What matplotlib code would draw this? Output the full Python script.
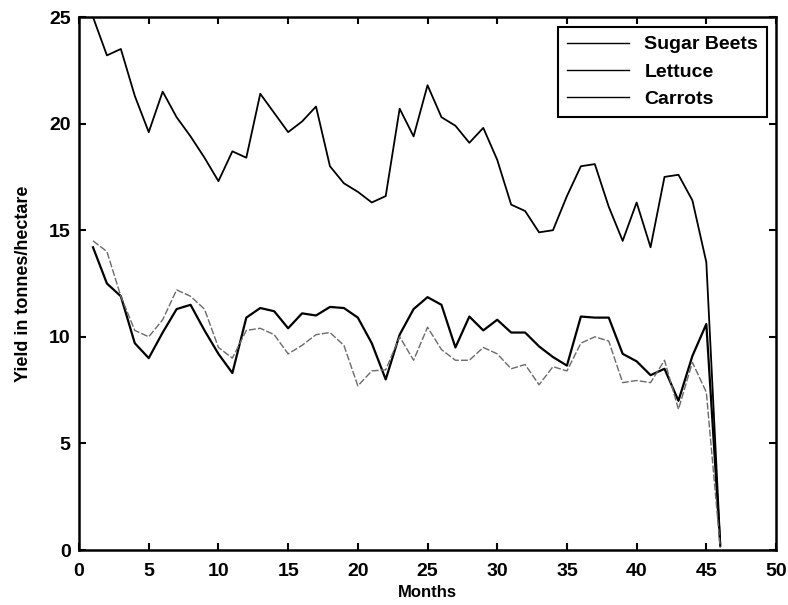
import numpy as np
import matplotlib
matplotlib.use("Agg")
import matplotlib.pyplot as plt

plt.rcParams['font.family'] = ['Liberation Sans', 'DejaVu Sans']
plt.rcParams['font.weight'] = 'bold'

# monthly yields (tonnes/hectare)
months = np.arange(1, 47)

sugar_beets = [25.0, 23.2, 23.5, 21.3, 19.6, 21.5, 20.3, 19.4, 18.4, 17.3,
               18.7, 18.4, 21.4, 20.5, 19.6, 20.1, 20.8, 18.0, 17.2, 16.8,
               16.3, 16.6, 20.7, 19.4, 21.8, 20.3, 19.9, 19.1, 19.8, 18.3,
               16.2, 15.9, 14.9, 15.0, 16.6, 18.0, 18.1, 16.1, 14.5, 16.3,
               14.2, 17.5, 17.6, 16.4, 13.5, 0.3]

lettuce = [14.2, 12.5, 11.9, 9.7, 9.0, 10.2, 11.3, 11.5, 10.3, 9.2,
           8.3, 10.9, 11.35, 11.2, 10.4, 11.1, 11.0, 11.4, 11.35, 10.9,
           9.7, 8.0, 10.1, 11.3, 11.86, 11.5, 9.5, 10.95, 10.3, 10.8,
           10.2, 10.2, 9.55, 9.05, 8.65, 10.95, 10.9, 10.9, 9.2, 8.85,
           8.2, 8.5, 7.0, 9.1, 10.6, 0.2]

carrots = [14.5, 14.0, 11.9, 10.3, 10.0, 10.8, 12.2, 11.9, 11.3, 9.5,
           9.0, 10.3, 10.4, 10.1, 9.2, 9.6, 10.1, 10.2, 9.6, 7.7,
           8.4, 8.45, 10.0, 8.9, 10.45, 9.4, 8.9, 8.9, 9.5, 9.2,
           8.5, 8.7, 7.75, 8.6, 8.4, 9.7, 10.0, 9.8, 7.85, 7.95,
           7.85, 8.9, 6.6, 8.8, 7.4, 0.1]

fig = plt.figure(figsize=(7.88, 6.05), dpi=100)
ax = fig.add_axes([0.1003, 0.0909, 0.8845, 0.881])

ax.plot(months, sugar_beets, color='black', lw=1.3, label='Sugar Beets')
ax.plot(months, lettuce, color='black', lw=1.6, label='Lettuce')
ax.plot(months, carrots, color='#6a6a6a', lw=1.0, linestyle=(0, (5, 1.5)), label='Carrots')

ax.set_xlim(0, 50)
ax.set_ylim(0, 25)
ax.set_xticks(np.arange(0, 51, 5))
ax.set_yticks(np.arange(0, 26, 5))
ax.tick_params(direction='in', length=5, width=1.5, top=True, right=True,
               labelsize=14)
ax.tick_params(axis='x', pad=9)
ax.tick_params(axis='y', pad=6)
for s in ax.spines.values():
    s.set_linewidth(1.8)

ax.set_xlabel('Months', fontsize=12, fontweight='bold', labelpad=4)
ax.set_ylabel('Yield in tonnes/hectare', fontsize=13, fontweight='bold', labelpad=12)

leg = ax.legend(loc='upper right', bbox_to_anchor=(0.987, 0.981), borderaxespad=0,
                fontsize=14, handlelength=3.2, fancybox=False, framealpha=1,
                edgecolor='black', labelspacing=0.5, borderpad=0.45)
leg.get_frame().set_linewidth(1.5)
for h in leg.get_lines():
    h.set_color('black')
    h.set_linestyle('-')
    h.set_linewidth(1.0)

fig.savefig('out.png', dpi=100)
